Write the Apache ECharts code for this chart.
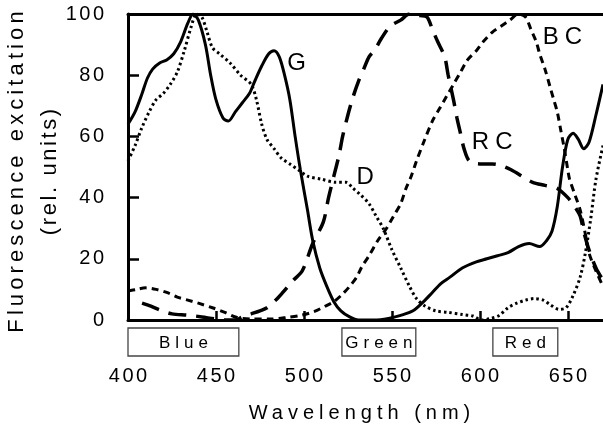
<!DOCTYPE html>
<html>
<head>
<meta charset="utf-8">
<script src="https://cdn.jsdelivr.net/npm/echarts@6/dist/echarts.min.js"></script>
<style>
html,body{margin:0;padding:0;background:#fff;}
#chart{width:603px;height:433px;}
</style>
</head>
<body>
<div id="chart"></div>
<script>
// ---------- data ----------
const xTicks = [400, 450, 500, 550, 600, 650];
const yTicks = [0, 20, 40, 60, 80, 100];

// G (solid)
const gWl  = [400,404,408,411,414,418,422,426,430,434,437,440,444,447,450,454,457,461,465,469,472,476,480,483,486,489,492,495,498,502,505,509,513,517,521,526,531,540,548,555,562,568,573,578,583,590,598,604,610,616,622,628,634,638,641,644,647,650,653,656,659,662,666,670];
const gVal = [64,68,74,79,82,84,85,87,91,97,100,98,90,80,72,66,65,68,71,74,78,83,87,88,86,80,72,60,49,36,26,17,11,6,3,1,0,0,0.5,1.5,3,6,9,12,14,17,19,20,21,22,24,25,24,26,29,37,50,59,61,59,56,58,67,77];

// D (dotted)
const dWl  = [400,404,408,412,416,420,424,428,432,436,439,442,445,448,452,458,464,470,473,476,479,483,487,492,497,502,510,518,524,528,532,537,541,545,550,555,560,564,569,575,582,590,596,601,606,611,616,621,626,631,636,640,645,649,653,657,660,663,666,670];
const dVal = [52,57,63,68,72,74,77,81,88,96,100,99,94,89,87,84,80,77,72,64,59,56,53,51,49,47,46,45,45,43,41,38,34,30,23,17,11,7,4.5,3,2.5,1.8,1.3,0,0.5,1.5,4,5.5,6.5,7,6.5,5,3.5,4,8,14,22,33,46,57];

// RC (long dash)
const rcWl  = [408,413,418,425,434,442,450,456,461,465,470,475,479,484,488,494,499,505,511,514,517,520,522,525,528,531,534,537,540,544,549,555,560,566,570,573,576,580,582,585,587,589,591,594,600,607,612,618,624,630,637,644,650,654,657,659,662,666,670];
const rcVal = [5.5,4.5,3.3,2,1.6,1,0.3,0,0,1,2,3,4,6.5,9,13,16,25,32,40,47,54,60,67,73,78,82,86,88,92,96,98,100,99.5,99,95,91,86,80,72,66,61,56,52,51,51,50.5,49,47,45,44,43,40,37,34,29,23,17,13];

// BC (short dash)
const bcWl  = [400,405,410,416,422,428,434,440,448,455,462,470,481,490,499,506,512,517,522,526,530,533,537,542,547,551,555,558,561,564,568,573,577,581,585,589,593,598,602,607,612,617,622,626,629,632,634,637,640,642,644,646,648,650,651,654,657,660,662,666,670];
const bcVal = [9.5,10,10.5,10,9,7.5,6.5,5.5,4,2.5,0.8,0.3,0.3,0.8,1.6,2.8,4.5,6,8.5,11,14,17.5,21,26,30,34,38,43,47,52,58,65,69,73,77,81,85,88,91,94,96,98,100,99,95,91,87,82,76,72,68,62,56,49,46,41,36,28,22,16,11];

// curve labels (text, wavelength, value)
const curveLabels = ['G', 'D', 'RC', 'BC'];
const curveLabelX = [497, 536, 607, 647];
const curveLabelY = [84, 46.5, 58, 92.5];

// spectral band boxes under the axis
const bandNames = ['Blue', 'Green', 'Red'];
const bandFrom  = [400, 521.6, 607.4];
const bandTo    = [463, 563.6, 644.3];

// ---------- letter spacing (the reference text is widely tracked) ----------
const FONT = 'Liberation Sans, Arial, sans-serif';
function trackingFor(t) {
  if (t === 'Wavelength (nm)') return 5;
  if (t === 'Fluorescence excitation') return 4.1;
  if (t === '(rel. units)') return 2.6;
  if (bandNames.indexOf(t) >= 0) return 5;
  if (t === 'RC' || t === 'BC') return 6;
  if (/^\d+$/.test(t)) return 2.5;
  return 0;
}
(function () {
  const P = CanvasRenderingContext2D.prototype;
  const orig = P.fillText;
  P.fillText = function (t, x, y, m) {
    const ls = trackingFor(String(t));
    if (ls && 'letterSpacing' in this) {
      const prev = this.letterSpacing;
      this.letterSpacing = ls + 'px';
      if (this.textAlign === 'center') x += ls / 2;
      else if (this.textAlign === 'right' || this.textAlign === 'end') x += ls;
      m === undefined ? orig.call(this, t, x, y) : orig.call(this, t, x, y, m);
      this.letterSpacing = prev;
    } else {
      m === undefined ? orig.call(this, t, x, y) : orig.call(this, t, x, y, m);
    }
  };
})();

function pairs(xs, ys) { return xs.map((x, i) => [x, ys[i]]); }

const chart = echarts.init(document.getElementById('chart'), null, { renderer: 'canvas' });

const lineBase = { type: 'line', showSymbol: false, symbol: 'none', smooth: 0.3, silent: true, z: 3 };

const option = {
  animation: false,
  backgroundColor: '#fff',
  textStyle: { fontFamily: FONT, color: '#000' },
  grid: { left: 128, top: 14, right: 0, bottom: 113, containLabel: false, outerBoundsMode: 'none' },
  xAxis: [{
    type: 'value', min: 400, max: 670, interval: 50,
    name: 'Wavelength (nm)', nameLocation: 'middle', nameGap: 83, nameMoveOverlap: false,
    nameTextStyle: { fontSize: 20, color: '#000', fontFamily: FONT, padding: [0, 12, 0, 0] },
    axisLine: { show: true, onZero: false, lineStyle: { color: '#000', width: 3 } },
    axisTick: { show: true, inside: true, length: 9, lineStyle: { color: '#000', width: 2.5 } },
    axisLabel: {
      show: true, margin: 46, fontSize: 20, color: '#000', fontFamily: FONT,
      showMaxLabel: false,
      formatter: v => (xTicks.indexOf(v) >= 0 ? String(v) : '')
    },
    splitLine: { show: false }
  }, {
    type: 'value', min: 400, max: 670, position: 'top',
    axisLine: { show: true, onZero: false, lineStyle: { color: '#000', width: 3 } },
    axisTick: { show: false }, axisLabel: { show: false }, splitLine: { show: false }
  }],
  yAxis: {
    type: 'value', min: 0, max: 100, interval: 20,
    name: 'Fluorescence excitation\n(rel. units)', nameLocation: 'middle', nameGap: 62, nameMoveOverlap: false,
    nameTextStyle: { fontSize: 22, color: '#000', fontFamily: FONT, lineHeight: 33, padding: [0, 10, 0, 0] },
    axisLine: { show: true, lineStyle: { color: '#000', width: 3 } },
    axisTick: { show: true, inside: true, length: 11, lineStyle: { color: '#000', width: 2.5 } },
    axisLabel: {
      margin: 24, fontSize: 20, color: '#000', fontFamily: FONT,
      formatter: v => (yTicks.indexOf(v) >= 0 ? String(v) : '')
    },
    splitLine: { show: false }
  },
  series: [
    Object.assign({}, lineBase, { name: 'G', data: pairs(gWl, gVal),
      lineStyle: { color: '#000', width: 3, type: 'solid' } }),
    Object.assign({}, lineBase, { name: 'D', data: pairs(dWl, dVal),
      lineStyle: { color: '#000', width: 3, type: [2.5, 3] } }),
    Object.assign({}, lineBase, { name: 'RC', data: pairs(rcWl, rcVal),
      lineStyle: { color: '#000', width: 3.5, type: [18, 10] } }),
    Object.assign({}, lineBase, { name: 'BC', data: pairs(bcWl, bcVal),
      lineStyle: { color: '#000', width: 3, type: [7, 5] } }),
    {
      type: 'custom', name: 'labels', silent: true, clip: false, z: 5,
      data: curveLabels.map((t, i) => [curveLabelX[i], curveLabelY[i]]),
      encode: { x: 0, y: 1 },
      renderItem: function (params, api) {
        const p = api.coord([api.value(0), api.value(1)]);
        return {
          type: 'text',
          style: { text: curveLabels[params.dataIndex], x: p[0], y: p[1],
            align: 'center', verticalAlign: 'middle',
            font: '24px ' + FONT, fill: '#000' }
        };
      }
    },
    {
      type: 'custom', name: 'bands', silent: true, clip: false, z: 5,
      data: bandNames.map((n, i) => [bandFrom[i], bandTo[i]]),
      encode: { x: [0, 1] },
      renderItem: function (params, api) {
        const a = api.coord([api.value(0), 0]);
        const b = api.coord([api.value(1), 0]);
        const top = a[1] + 8, h = 28;
        return {
          type: 'group',
          children: [
            { type: 'rect', shape: { x: a[0], y: top, width: b[0] - a[0], height: h },
              style: { fill: '#fff', stroke: '#444', lineWidth: 1.3 } },
            { type: 'text', style: { text: bandNames[params.dataIndex],
                x: (a[0] + b[0]) / 2, y: top + h / 2 + 1, align: 'center', verticalAlign: 'middle',
                font: '17px ' + FONT, fill: '#000' } }
          ]
        };
      }
    }
  ]
};
chart.setOption(option);
</script>
</body>
</html>
